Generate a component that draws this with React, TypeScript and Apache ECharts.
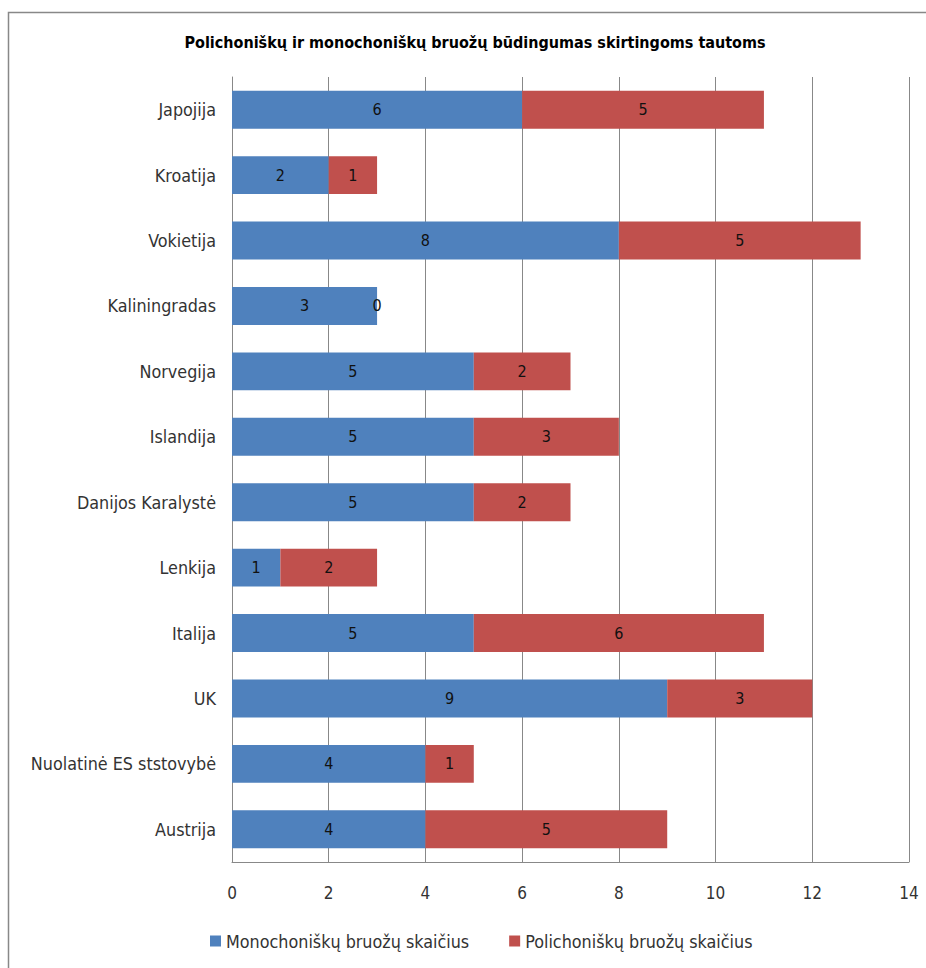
import React, { useEffect, useRef } from "react";
import * as echarts from "echarts";

const categories = [
  "Japojija",
  "Kroatija",
  "Vokietija",
  "Kaliningradas",
  "Norvegija",
  "Islandija",
  "Danijos Karalystė",
  "Lenkija",
  "Italija",
  "UK",
  "Nuolatinė ES ststovybė",
  "Austrija",
];
const monoValues = [6, 2, 8, 3, 5, 5, 5, 1, 5, 9, 4, 4];
const poliValues = [5, 1, 5, 0, 2, 3, 2, 2, 6, 3, 1, 5];
const seriesNames = ["Monochoniškų bruožų skaičius", "Polichoniškų bruožų skaičius"];
const titleText = "Polichoniškų ir monochoniškų bruožų būdingumas skirtingoms tautoms";

const FONT = '"Liberation Sans Narrow", "DejaVu Sans Condensed", "Open Sans", sans-serif';

export default function App() {
  const ref = useRef<HTMLDivElement>(null);
  useEffect(() => {
    document.body.style.margin = "0";
    const chart = echarts.init(ref.current!, null, { renderer: "svg" });
    const label = {
      show: true,
      position: "inside",
      color: "#111",
      fontSize: 16,
      fontFamily: FONT,
    };
    chart.setOption({
      animation: false,
      backgroundColor: "#fff",
      title: {
        text: titleText,
        left: 470,
        textAlign: "center",
        top: 29,
        textStyle: { fontSize: 16, fontWeight: "bold", color: "#000", fontFamily: FONT },
      },
      graphic: [
        {
          type: "rect",
          shape: { x: 8.5, y: 12.5, width: 940, height: 980 },
          style: { fill: "none", stroke: "#888", lineWidth: 1.5 },
          silent: true,
        },
      ],
      legend: {
        bottom: 13,
        left: 205,
        itemWidth: 11,
        itemHeight: 11,
        itemGap: 40,
        icon: "rect",
        textStyle: { fontSize: 17.8, color: "#333", fontFamily: FONT },
        data: seriesNames,
      },
      grid: { left: 232, right: 17, top: 77, bottom: 106, containLabel: false },
      xAxis: {
        type: "value",
        min: 0,
        max: 14,
        interval: 2,
        axisLine: { show: true, lineStyle: { color: "#888", width: 1 } },
        axisTick: { show: false },
        splitLine: { show: true, lineStyle: { color: "#888", width: 1 } },
        axisLabel: { fontSize: 17, color: "#333", margin: 22, fontFamily: FONT },
      },
      yAxis: {
        type: "category",
        inverse: true,
        data: categories,
        axisLine: { show: true, lineStyle: { color: "#888", width: 1 } },
        axisTick: { show: false },
        axisLabel: { fontSize: 17.8, color: "#333", margin: 16, fontFamily: FONT },
      },
      series: [
        {
          name: seriesNames[0],
          type: "bar",
          stack: "total",
          data: monoValues,
          barWidth: "58%",
          itemStyle: { color: "#4F81BD" },
          label,
        },
        {
          name: seriesNames[1],
          type: "bar",
          stack: "total",
          data: poliValues,
          barWidth: "58%",
          itemStyle: { color: "#C0504D" },
          label,
        },
      ],
    });
    return () => chart.dispose();
  }, []);
  return <div ref={ref} style={{ width: 926, height: 968 }} />;
}
